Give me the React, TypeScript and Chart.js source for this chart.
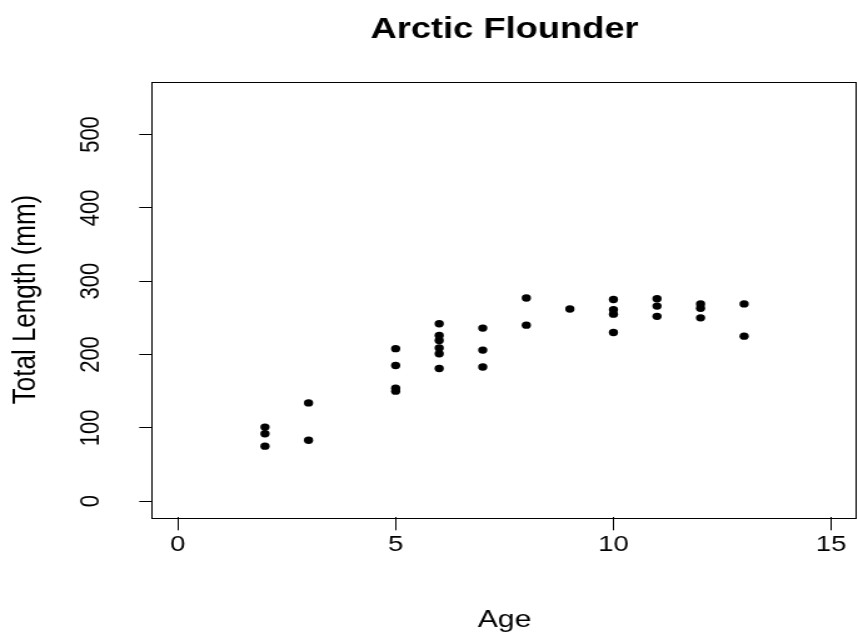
import React, { useEffect, useRef } from "react";
import { Chart, registerables } from "chart.js";

Chart.register(...registerables);

const TITLE = "Arctic Flounder";
const X_LABEL = "Age";
const Y_LABEL = "Total Length (mm)";

const AGE = [2, 2, 2, 3, 3, 5, 5, 5, 5, 6, 6, 6, 6, 6, 6, 7, 7, 7, 8, 8, 9, 10, 10, 10, 10, 11, 11, 11, 12, 12, 12, 13, 13];
const LENGTH = [101, 92, 75, 134, 83, 208, 185, 154, 150, 242, 226, 219, 209, 201, 181, 236, 206, 183, 277, 240, 262, 275, 261, 255, 230, 276, 266, 252, 269, 263, 250, 269, 225];

const X_TICKS = [0, 5, 10, 15];
const Y_TICKS = [0, 100, 200, 300, 400, 500];

const CSS_W = 858;
const CSS_H = 637;
const STRETCH = 1.25;
const INT_W = Math.round(CSS_W / STRETCH);

const FONT = "'Liberation Sans', Arial, Helvetica, sans-serif";

const boxPlugin = {
  id: "rbox",
  afterDraw(chart: any) {
    const { ctx, chartArea } = chart;
    ctx.save();
    ctx.strokeStyle = "#000";
    ctx.lineWidth = 1;
    ctx.strokeRect(
      Math.round(chartArea.left) + 0.5,
      Math.round(chartArea.top) + 0.5,
      Math.round(chartArea.right - chartArea.left) - 1,
      Math.round(chartArea.bottom - chartArea.top)
    );
    ctx.restore();
  },
};

export default function App() {
  const ref = useRef<HTMLCanvasElement | null>(null);

  useEffect(() => {
    document.body.style.margin = "0";
    const canvas = ref.current;
    if (!canvas) return;
    const points = AGE.map((a, i) => ({ x: a, y: LENGTH[i] }));
    const chart = new Chart(canvas, {
      type: "scatter",
      data: {
        datasets: [
          {
            data: points,
            backgroundColor: "#000",
            borderWidth: 0,
            pointRadius: 3.7,
            pointHoverRadius: 3.7,
          },
        ],
      },
      plugins: [boxPlugin],
      options: {
        animation: false,
        responsive: false,
        devicePixelRatio: 1,
        events: [],
        layout: { autoPadding: false, padding: { left: 0, right: 0.5, top: 0, bottom: 0 } },
        plugins: {
          legend: { display: false },
          tooltip: { enabled: false },
          title: {
            display: true,
            text: TITLE,
            fullSize: false,
            color: "#000",
            font: { family: FONT, size: 29, weight: "bold", lineHeight: 1.2 },
            padding: { top: 12.1, bottom: 34.8 },
          },
        },
        scales: {
          x: {
            type: "linear",
            min: -0.6,
            max: 15.6,
            afterBuildTicks: (s: any) => {
              s.ticks = X_TICKS.map((v) => ({ value: v }));
            },
            afterFit: (s: any) => {
              s.height = 119.7;
              s.paddingLeft = 0;
              s.paddingRight = 0;
            },
            border: { display: false },
            grid: {
              display: true,
              drawOnChartArea: false,
              drawTicks: true,
              tickLength: 13,
              color: "#000",
              lineWidth: 1,
            },
            ticks: {
              autoSkip: false,
              maxRotation: 0,
              minRotation: 0,
              padding: 1.5,
              color: "#000",
              font: { family: FONT, size: 22 },
            },
            title: {
              display: true,
              text: X_LABEL,
              color: "#000",
              font: { family: FONT, size: 24, lineHeight: 1.2 },
              padding: { top: 0, bottom: 2.5 },
            },
          },
          y: {
            type: "linear",
            min: -22,
            max: 572,
            afterBuildTicks: (s: any) => {
              s.ticks = Y_TICKS.map((v) => ({ value: v }));
            },
            afterFit: (s: any) => {
              s.width = 121.3;
              s.paddingTop = 0;
              s.paddingBottom = 0;
            },
            border: { display: false },
            grid: {
              display: true,
              drawOnChartArea: false,
              drawTicks: true,
              tickLength: 10,
              color: "#000",
              lineWidth: 1,
            },
            ticks: {
              autoSkip: false,
              minRotation: 90,
              maxRotation: 90,
              crossAlign: "center",
              padding: 19.75,
              color: "#000",
              font: { family: FONT, size: 22 },
            },
            title: {
              display: true,
              text: Y_LABEL,
              color: "#000",
              font: { family: FONT, size: 26, lineHeight: 1.2 },
              padding: { top: 5, bottom: 0 },
            },
          },
        },
      },
    });
    return () => chart.destroy();
  }, []);

  return (
    <div style={{ position: "absolute", left: 0, top: 0, width: CSS_W, height: CSS_H, background: "#fff" }}>
      <canvas
        ref={ref}
        width={INT_W}
        height={CSS_H}
        style={{ width: CSS_W + "px", height: CSS_H + "px", display: "block" }}
      />
    </div>
  );
}
